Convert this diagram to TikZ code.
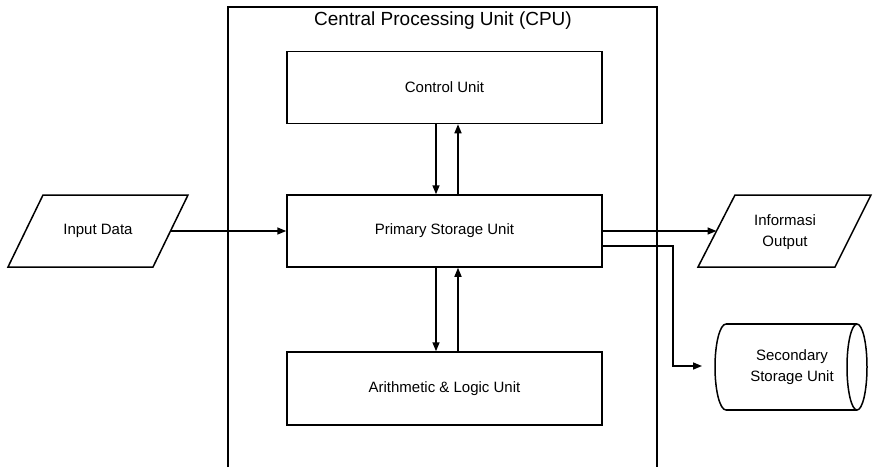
\documentclass[tikz,border=0pt]{standalone}
\usepackage{fontspec}
\setmainfont{Liberation Sans}
\usetikzlibrary{arrows.meta}
\begin{document}
\begin{tikzpicture}[x=1pt,y=-1pt,
  line width=1.5pt,
  unitbox/.style={draw, minimum width=315pt, minimum height=72pt, inner sep=0pt, font=\fontsize{15}{18}\selectfont},
  txt/.style={inner sep=0pt, align=center, font=\fontsize{15}{21}\selectfont},
  arr/.style={-{Triangle[length=9pt,width=7pt]}}]
\useasboundingbox (0,0) rectangle (873,467);
% CPU frame
\draw (228,467) -- (228,7) -- (657,7) -- (657,467);
\node[inner sep=0pt, font=\fontsize{19}{22}\selectfont] (cpu) at (443,21) {Central Processing Unit (CPU)};
% units
\node[unitbox] (cu) at (444.5,87.5) {Control Unit};
\node[unitbox] (psu) at (444.5,231) {Primary Storage Unit};
\node[unitbox, minimum height=73pt] (alu) at (444.5,388.5) {Arithmetic \& Logic Unit};
% input parallelogram
\draw (43,195) -- (188,195) -- (153,267) -- (8,267) -- cycle;
\node[txt] (in) at (98,231) {Input Data};
\coordinate (inR) at (170.5,231);
% output parallelogram
\draw (735,195) -- (871,195) -- (835,267) -- (698,267) -- cycle;
\node[txt] (out) at (785,232) {Informasi\\Output};
\coordinate (outL) at (716.5,231);
% secondary storage cylinder
\draw (726,324) -- (857,324);
\draw (726,410) -- (857,410);
\draw (857,367) ellipse [x radius=10, y radius=43];
\draw (726,324) arc[start angle=90, end angle=270, x radius=11, y radius=-43];
\node[txt] (sec) at (792,367) {Secondary\\Storage Unit};
\coordinate (secL) at (702,366);
\coordinate (bend) at (673,246);
% connectors
\draw[arr] (inR) -- (psu.west);
\draw[arr] (psu.east) -- (outL);
\draw[arr] ([yshift=-15pt]psu.east) -- (bend) |- (secL);
\draw[arr] ([xshift=-8.5pt]cu.south) -- ([xshift=-8.5pt]psu.north);
\draw[arr] ([xshift=13.5pt]psu.north) -- ([xshift=13.5pt]cu.south);
\draw[arr] ([xshift=-8.5pt]psu.south) -- ([xshift=-8.5pt]alu.north);
\draw[arr] ([xshift=13.5pt]alu.north) -- ([xshift=13.5pt]psu.south);
\end{tikzpicture}
\end{document}
